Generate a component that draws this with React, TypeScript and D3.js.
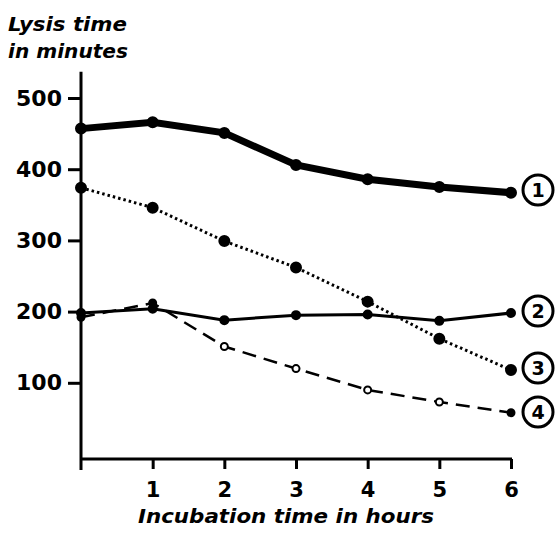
import React, { useRef, useEffect } from "react"
import * as d3 from "d3"

// Incubation time (hours)
const hours = [0, 1, 2, 3, 4, 5, 6]
const xTicks = [1, 2, 3, 4, 5, 6]
const yTicks = [100, 200, 300, 400, 500]

// Lysis time in minutes
const curve1 = [457, 466, 451, 406, 386, 375, 367]
const curve2 = [198, 204, 188, 195, 196, 187, 198]
const curve3 = [374, 346, 299, 262, 214, 162, 118]
const curve4 = [192, 212, 151, 120, 90, 73, 58]

const seriesLabels = ["1", "2", "3", "4"]

const W = 556
const H = 538
const FONT = "'DejaVu Sans', sans-serif"

const App: React.FC = () => {
  const svgRef = useRef<SVGSVGElement | null>(null)

  useEffect(() => {
    const svg = d3.select(svgRef.current)
    svg.selectAll("*").remove()

    const x = d3.scaleLinear().domain([0, 6]).range([81, 511])
    const y = d3.scaleLinear().domain([0, 500]).range([454, 98])

    const axisY = 459

    // AXES
    svg.append("line")
      .attr("x1", x(0)).attr("x2", x(0))
      .attr("y1", y(537)).attr("y2", axisY + 11)
      .attr("stroke", "black").attr("stroke-width", 3)

    svg.append("line")
      .attr("x1", x(0)).attr("x2", x(6) + 1)
      .attr("y1", axisY).attr("y2", axisY)
      .attr("stroke", "black").attr("stroke-width", 3)

    const yAxis = d3.axisLeft(y)
      .tickValues(yTicks)
      .tickSize(13)
      .tickPadding(6)
      .tickFormat(d3.format("d"))

    svg.append("g")
      .attr("transform", `translate(${x(0)},0)`)
      .call(yAxis)
      .call(g => g.select(".domain").remove())
      .call(g => g.selectAll(".tick line").attr("stroke-width", 3))
      .call(g => g.selectAll(".tick text")
        .attr("font-family", FONT)
        .attr("font-weight", "bold")
        .attr("font-size", 22)
        .attr("fill", "black"))

    const xAxis = d3.axisBottom(x)
      .tickValues(xTicks)
      .tickSize(10)
      .tickPadding(13)
      .tickFormat(d3.format("d"))

    svg.append("g")
      .attr("transform", `translate(0,${axisY})`)
      .call(xAxis)
      .call(g => g.select(".domain").remove())
      .call(g => g.selectAll(".tick line").attr("stroke-width", 3))
      .call(g => g.selectAll(".tick text")
        .attr("font-family", FONT)
        .attr("font-weight", "bold")
        .attr("font-size", 21)
        .attr("fill", "black"))

    // TITLES
    const title = (txt: string, tx: number, ty: number, len: number) =>
      svg.append("text")
        .attr("x", tx).attr("y", ty)
        .attr("font-family", FONT)
        .attr("font-weight", "bold")
        .attr("font-style", "italic")
        .attr("font-size", 20)
        .attr("textLength", len)
        .attr("lengthAdjust", "spacingAndGlyphs")
        .text(txt)

    title("Lysis time", 8, 31, 119)
    title("in minutes", 8, 58, 120)
    title("Incubation time in hours", 138, 523, 296)

    // LINES
    const line = (vals: number[]) => d3.line<number>()
      .x((_d, i) => x(hours[i]))
      .y(d => y(d))(vals)

    const series = [
      { vals: curve1, width: 7, dash: null as string | null, r: 5 },
      { vals: curve2, width: 3, dash: null, r: 4 },
      { vals: curve3, width: 3, dash: "2.5,3", r: 5 },
      { vals: curve4, width: 2.5, dash: "14,8", r: 3.5 },
    ]

    series.forEach((s, si) => {
      svg.append("path")
        .attr("d", line(s.vals))
        .attr("fill", "none")
        .attr("stroke", "black")
        .attr("stroke-width", s.width)
        .attr("stroke-dasharray", s.dash)

      svg.append("g").selectAll("circle")
        .data(s.vals)
        .enter()
        .append("circle")
        .attr("cx", (_d, i) => x(hours[i]))
        .attr("cy", d => y(d))
        .attr("r", s.r)
        .attr("fill", (_d, i) => (si === 3 && i >= 2 && i <= 5) ? "white" : "black")
        .attr("stroke", "black")
        .attr("stroke-width", 2)
    })

    // CIRCLED SERIES LABELS
    const labelY = [190, 311, 368, 412]
    const lab = svg.append("g").selectAll("g")
      .data(seriesLabels)
      .enter()
      .append("g")
      .attr("transform", (_d, i) => `translate(538,${labelY[i]})`)

    lab.append("circle")
      .attr("r", 15)
      .attr("fill", "white")
      .attr("stroke", "black")
      .attr("stroke-width", 3)

    lab.append("text")
      .attr("text-anchor", "middle")
      .attr("dy", "0.36em")
      .attr("font-family", FONT)
      .attr("font-weight", "bold")
      .attr("font-size", 19)
      .text(d => d)
  }, [])

  return (
    <svg ref={svgRef} width={W} height={H}
      style={{ position: "absolute", left: 0, top: 0, background: "white" }}></svg>
  )
}

export default App
